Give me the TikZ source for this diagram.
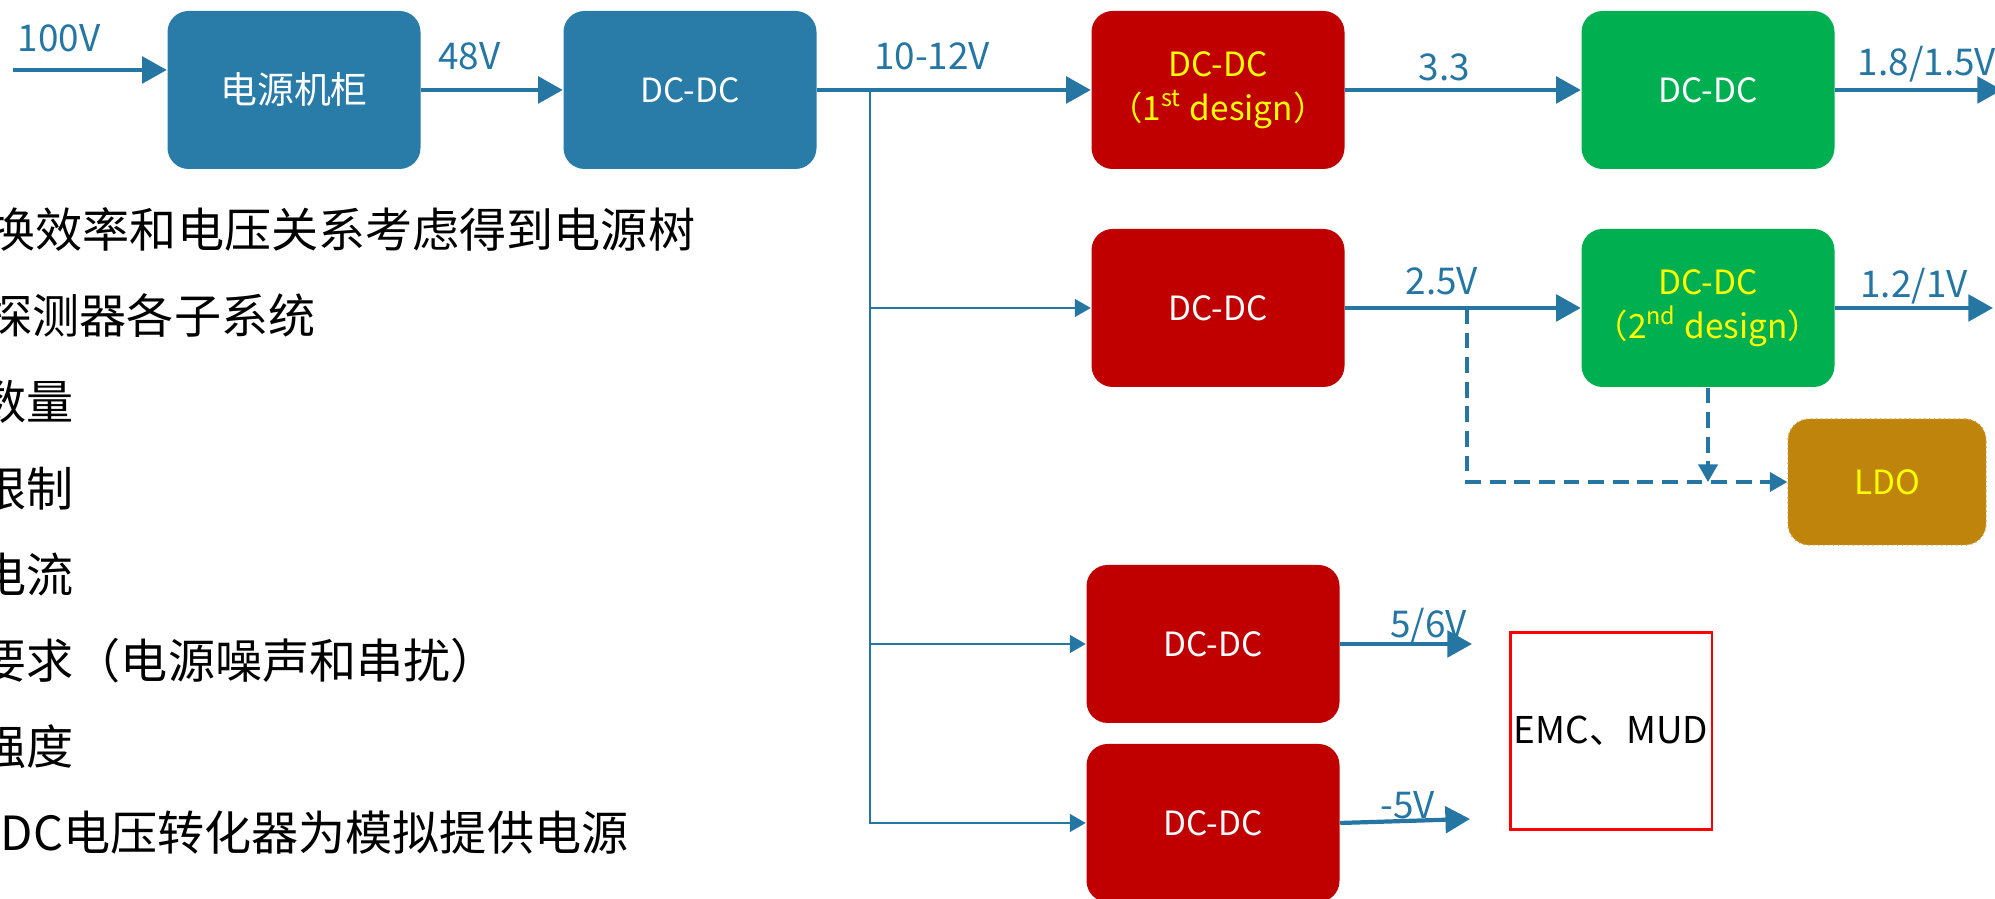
\documentclass[tikz,border=0pt]{standalone}
\usepackage{fontspec}
\setmainfont{Noto Sans CJK SC}
\usetikzlibrary{arrows.meta}

\definecolor{cabblue}{RGB}{40,124,167}
\definecolor{wire}{RGB}{37,118,163}
\definecolor{dcred}{RGB}{192,0,0}
\definecolor{dcgreen}{RGB}{0,176,80}
\definecolor{ldogold}{RGB}{191,132,12}
\definecolor{hiyellow}{RGB}{255,255,0}

\begin{document}
\begin{tikzpicture}[
  blk/.style={rectangle, rounded corners=6pt, minimum width=2.53cm,
              minimum height=1.58cm, text=white, align=center, inner sep=1pt,
              font=\fontsize{9.5}{12.5}\selectfont},
  arr/.style={-{Triangle[length=7pt, width=7.5pt]}, line width=1.2pt, draw=wire},
  feed/.style={-{Triangle[length=4.5pt, width=5pt]}, line width=0.6pt, draw=wire},
  dsh/.style={-{Triangle[length=5pt, width=5.5pt]}, line width=0.9pt, draw=wire,
              dash pattern=on 4.5pt off 2.5pt},
  lbl/.style={text=wire, inner sep=0pt, font=\fontsize{10.5}{12}\selectfont},
  note/.style={anchor=west, inner sep=0pt, font=\fontsize{13.4}{16}\selectfont}
]
\useasboundingbox (0,0) rectangle (19.95,8.99);
\clip (0,0) rectangle (19.95,8.99);

% Notes on the left
\node[note] (note1) at (-0.12, 6.69) {换效率和电压关系考虑得到电源树};
\node[note] (note2) at (-0.15, 5.83) {探测器各子系统};
\node[note] (note3) at (-0.21, 4.97) {数量};
\node[note] (note4) at (-0.21, 4.10) {限制};
\node[note] (note5) at (-0.21, 3.24) {电流};
\node[note] (note6) at (-0.21, 2.38) {要求（电源噪声和串扰）};
\node[note] (note7) at (-0.21, 1.52) {强度};
\node[note] (note8) at ( 0.00, 0.66) {DC电压转化器为模拟提供电源};

% Converter blocks
\node[blk, fill=cabblue, font=\fontsize{10.5}{12.5}\selectfont] (cab)
      at ( 2.94, 8.09) {电源机柜};
\node[blk, fill=cabblue] (dc0) at ( 6.90, 8.09) {DC-DC};
\node[blk, fill=dcred, text=hiyellow] (dcA) at (12.18, 8.09)
      {DC-DC\\（1\textsuperscript{st} design）};
\node[blk, fill=dcgreen] (dcB) at (17.08, 8.09) {DC-DC};
\node[blk, fill=dcred] (dcC) at (12.18, 5.91) {DC-DC};
\node[blk, fill=dcgreen, text=hiyellow] (dcD) at (17.08, 5.91)
      {DC-DC\\（2\textsuperscript{nd} design）};
\node[blk, fill=ldogold, draw=ldogold!80!white, densely dotted, thin,
      minimum width=1.98cm, minimum height=1.26cm, text=hiyellow] (ldo)
      at (18.87, 4.17) {LDO};
\node[blk, fill=dcred] (dcE) at (12.13, 2.55) {DC-DC};
\node[blk, fill=dcred] (dcF) at (12.13, 0.76) {DC-DC};
\node[draw=red, fill=white, line width=0.6pt, minimum width=2.01cm,
      minimum height=1.97cm, inner sep=1pt, font=\fontsize{10.5}{12}\selectfont]
      (emc) at (16.11, 1.68) {EMC、MUD};

% Free ends and taps
\coordinate (in100) at ( 0.13, 8.29);
\coordinate (tap)   at ( 8.70, 8.09);
\coordinate (split) at (14.67, 5.91);
\coordinate (outB)  at (20.02, 8.09);
\coordinate (outD)  at (19.93, 5.91);
\coordinate (o56)   at (14.72, 2.55);
\coordinate (o5)    at (14.70, 0.80);

% Main chain
\draw[arr] (in100) -- node[lbl, above=4.5pt, pos=0.30]{100V} (in100 -| cab.west);
\draw[arr] (cab) -- node[lbl, above=5pt, pos=0.34]{48V} (dc0);
\draw[arr] (dc0) -- node[lbl, above=5pt, pos=0.42]{10-12V} (dcA);
\draw[arr] (dcA) -- node[lbl, above=2pt, pos=0.42]{3.3} (dcB);
\draw[arr] (dcB.east) -- node[lbl, above=1.5pt, pos=0.55]{1.8/1.5V} (outB);
\draw[arr] (dcC) -- node[lbl, above=3pt, pos=0.41]{2.5V} (dcD);
\draw[arr] (dcD.east) -- node[lbl, above=0.5pt, pos=0.50]{1.2/1V} (outD);
\draw[arr] (dcE.east) -- node[lbl, above=-0.5pt, pos=0.67]{5/6V} (o56);
\draw[arr] (dcF.east) -- node[lbl, above=0pt, pos=0.52]{-5V} (o5);

% Branches off the 10-12V rail
\draw[feed] (tap) |- (dcC.west);
\draw[feed] (tap) |- (dcE.west);
\draw[feed] (tap) |- (dcF.west);

% LDO feeds
\draw[dsh] (split) |- (ldo.west);
\draw[dsh] (dcD.south) -- (dcD.south |- ldo.west);
\end{tikzpicture}
\end{document}
